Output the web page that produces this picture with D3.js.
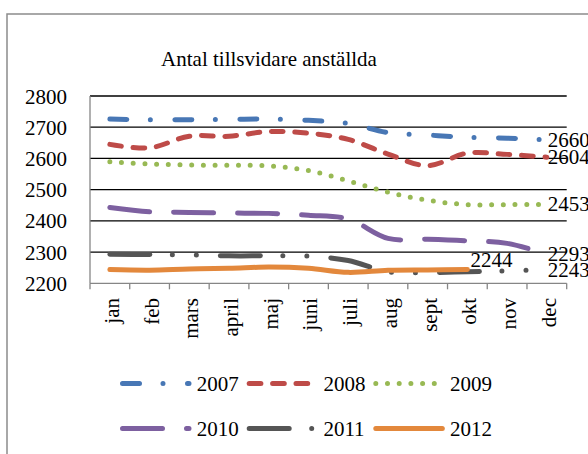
<!DOCTYPE html>
<html>
<head>
<meta charset="utf-8">
<script src="https://cdn.jsdelivr.net/npm/d3@7"></script>
<style>
  body { margin: 0; background: #fff; }
  svg text { font-family: "Liberation Serif", "Times New Roman", serif; fill: #000; }
</style>
</head>
<body>
<div id="chart"></div>
<script>
var w = 588, h = 454;

// data
var months = ["jan", "feb", "mars", "april", "maj", "juni", "juli", "aug", "sept", "okt", "nov", "dec"];
var years = ["2007", "2008", "2009", "2010", "2011", "2012"];
var v2007 = [2726, 2724, 2724, 2725, 2726, 2722, 2712, 2683, 2675, 2668, 2665, 2660];
var v2008 = [2645, 2634, 2671, 2671, 2686, 2681, 2661, 2614, 2577, 2617, 2613, 2604];
var v2009 = [2589, 2582, 2579, 2578, 2576, 2561, 2528, 2492, 2466, 2452, 2452, 2453];
var v2010 = [2443, 2429, 2427, 2425, 2424, 2418, 2406, 2344, 2341, 2336, 2328, 2293];
var v2011 = [2293, 2292, 2291, 2288, 2288, 2287, 2273, 2237, 2234, 2237, 2240, 2243];
var v2012 = [2244, 2242, 2246, 2248, 2252, 2248, 2235, 2242, 2243, 2244];
var yTicks = [2200, 2300, 2400, 2500, 2600, 2700, 2800];
var title = "Antal tillsvidare anställda";

var colors = ["#4877B5", "#BE4B48", "#98B954", "#7D60A0", "#555555", "#E3883C"];
var dashes = ["17,23.5,0,24.5", "11.7,11.7", "0,11.7", "40,24", "40,22.5,0,24,0,24", null];

var series = [v2007, v2008, v2009, v2010, v2011, v2012].map(function(vals, i) {
  return {
    name: years[i],
    color: colors[i],
    dash: dashes[i],
    values: vals.map(function(v, j) { return { m: months[j], v: v }; })
  };
});

var svg = d3.select("#chart").append("svg")
  .attr("width", w)
  .attr("height", h);

// outer chart border (runs off the right and bottom edge)
svg.append("rect")
  .attr("x", 7).attr("y", 14)
  .attr("width", 640).attr("height", 500)
  .attr("fill", "#fff")
  .attr("stroke", "#8c8c8c")
  .attr("stroke-width", 1.5);

svg.append("text")
  .attr("x", 269).attr("y", 65.5)
  .attr("text-anchor", "middle")
  .style("font-size", "21px")
  .text(title);

var x = d3.scaleBand().domain(months).range([90, 566.7]);
var y = d3.scaleLinear().domain([2200, 2800]).range([283.3, 96]);
function cx(m) { return x(m) + x.bandwidth() / 2; }

// gridlines
svg.selectAll(".grid")
  .data(yTicks.slice(1))
  .enter().append("line")
  .attr("class", "grid")
  .attr("x1", 90).attr("x2", 566.7)
  .attr("y1", function(d) { return y(d); })
  .attr("y2", function(d) { return y(d); })
  .attr("stroke", "#000")
  .attr("stroke-width", 1.3);

// y tick labels
svg.selectAll(".ylab")
  .data(yTicks)
  .enter().append("text")
  .attr("class", "ylab")
  .attr("x", 67)
  .attr("y", function(d) { return y(d) + 7.5; })
  .attr("text-anchor", "end")
  .style("font-size", "21px")
  .text(function(d) { return d; });

// axes lines
svg.append("line")
  .attr("x1", 90).attr("x2", 90)
  .attr("y1", y(2800)).attr("y2", y(2200))
  .attr("stroke", "#868686").attr("stroke-width", 1.3);
svg.append("line")
  .attr("x1", 90).attr("x2", 566.7)
  .attr("y1", y(2200)).attr("y2", y(2200))
  .attr("stroke", "#868686").attr("stroke-width", 1.3);

var tickX = months.map(function(m) { return x(m); }).concat([566.7]);
svg.selectAll(".xtick")
  .data(tickX)
  .enter().append("line")
  .attr("x1", function(d) { return d; })
  .attr("x2", function(d) { return d; })
  .attr("y1", y(2200)).attr("y2", y(2200) + 6)
  .attr("stroke", "#868686").attr("stroke-width", 1.3);

svg.selectAll(".xlab")
  .data(months)
  .enter().append("text")
  .attr("transform", function(d) { return "translate(" + (cx(d) + 9) + ",298) rotate(-90)"; })
  .attr("text-anchor", "end")
  .style("font-size", "21px")
  .text(function(d) { return d; });

var line = d3.line()
  .x(function(d) { return cx(d.m); })
  .y(function(d) { return y(d.v); })
  .curve(d3.curveCatmullRom);

svg.selectAll(".series")
  .data(series)
  .enter().append("path")
  .attr("d", function(d) { return line(d.values); })
  .attr("fill", "none")
  .attr("stroke", function(d) { return d.color; })
  .attr("stroke-width", 5)
  .attr("stroke-linecap", "round")
  .attr("stroke-linejoin", "round")
  .attr("stroke-dasharray", function(d) { return d.dash; });

// value labels at the end of each series
var endLabels = series.map(function(s) {
  var last = s.values[s.values.length - 1];
  return { m: last.m, v: last.v, name: s.name };
});
svg.selectAll(".endlab")
  .data(endLabels)
  .enter().append("text")
  .attr("x", function(d) { return d.m == "dec" ? cx(d.m) + 1 : cx(d.m) + 3; })
  .attr("y", function(d) { return d.m == "dec" ? y(d.v) + 7 : y(d.v) - 3; })
  .style("font-size", "21px")
  .text(function(d) { return d.v; });

// legend
var legX = [122.5, 249.2, 375.8];
var legY = [383.5, 428.5];
var leg = svg.selectAll(".leg")
  .data(series)
  .enter().append("g")
  .attr("transform", function(d, i) { return "translate(" + legX[i % 3] + "," + legY[Math.floor(i / 3)] + ")"; });

leg.append("line")
  .attr("x1", 0).attr("x2", 66.5)
  .attr("y1", 0).attr("y2", 0)
  .attr("stroke", function(d) { return d.color; })
  .attr("stroke-width", 5)
  .attr("stroke-linecap", "round")
  .attr("stroke-dasharray", function(d) { return d.dash; });

leg.append("text")
  .attr("x", 74.2)
  .attr("y", 7.3)
  .style("font-size", "21px")
  .text(function(d) { return d.name; });
</script>
</body>
</html>
